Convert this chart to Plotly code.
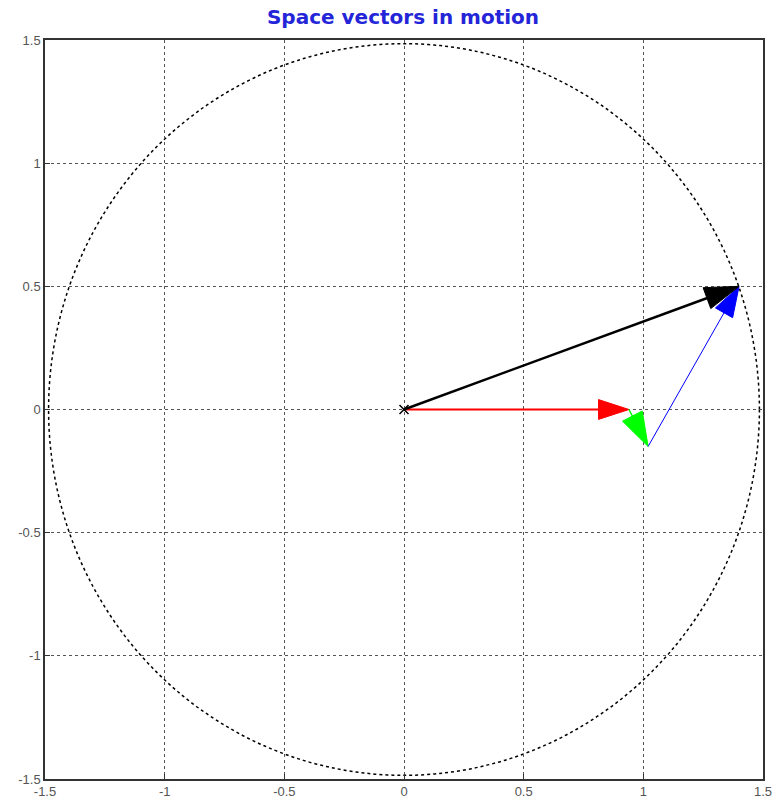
import plotly.graph_objects as go

# space vectors (start -> end)
vec_colors = ['red', 'lime', 'blue', 'black']
vec_widths = [2, 1.5, 1, 2.5]
vec_head = [32, 36, 32, 36]
start_x = [0.0, 0.94, 1.02, 0.0]
start_y = [0.0, 0.0, -0.15, 0.0]
end_x = [0.94, 1.02, 1.40, 1.40]
end_y = [0.0, -0.15, 0.50, 0.50]

circle_radius = 1.485
tick_vals = [-1.5, -1, -0.5, 0, 0.5, 1, 1.5]
tick_text = ['-1.5', '-1', '-0.5', '0', '0.5', '1', '1.5']

fig = go.Figure()

for c, w, h, x0, y0, x1, y1 in zip(vec_colors, vec_widths, vec_head,
                                    start_x, start_y, end_x, end_y):
    fig.add_trace(go.Scatter(
        x=[x0, x1], y=[y0, y1],
        mode='lines+markers',
        line=dict(color=c, width=w),
        marker=dict(symbol='arrow', angleref='previous', opacity=1,
                    size=[0, h], color=c, line=dict(width=1, color=c)),
        hoverinfo='skip'
    ))

# origin marker
fig.add_trace(go.Scatter(
    x=[0], y=[0], mode='markers',
    marker=dict(symbol='x-thin', size=9, line=dict(color='black', width=1.5)),
    hoverinfo='skip'
))

fig.add_shape(type='circle', xref='x', yref='y',
              x0=-circle_radius, y0=-circle_radius,
              x1=circle_radius, y1=circle_radius,
              line=dict(color='black', width=1.5, dash='dot'), layer='below')

axis_style = dict(
    range=[-1.5, 1.5],
    tickvals=tick_vals, ticktext=tick_text,
    showgrid=True, gridcolor='#555', gridwidth=1, griddash='3px,3px',
    zeroline=False, automargin=False,
    showline=True, linecolor='#333', linewidth=1.5, mirror=True,
    ticks='inside', ticklen=5, tickcolor='#333',
    tickfont=dict(family='Liberation Sans', size=13, color='#555'),
)

fig.update_layout(
    width=775, height=808,
    margin=dict(l=45, r=12, t=40, b=29),
    plot_bgcolor='white', paper_bgcolor='white',
    showlegend=False,
    title=dict(text='<b>Space vectors in motion</b>', x=0.52, xanchor='center',
               y=0.979, yanchor='middle',
               font=dict(family='DejaVu Sans', size=20, color='#2424d8')),
    xaxis=axis_style,
    yaxis=axis_style,
)

# drop the default 8px page margin so the figure sits flush in the window
fig.write_html("out.html", config={'displayModeBar': False},
               post_script="document.body.style.margin='0';")
